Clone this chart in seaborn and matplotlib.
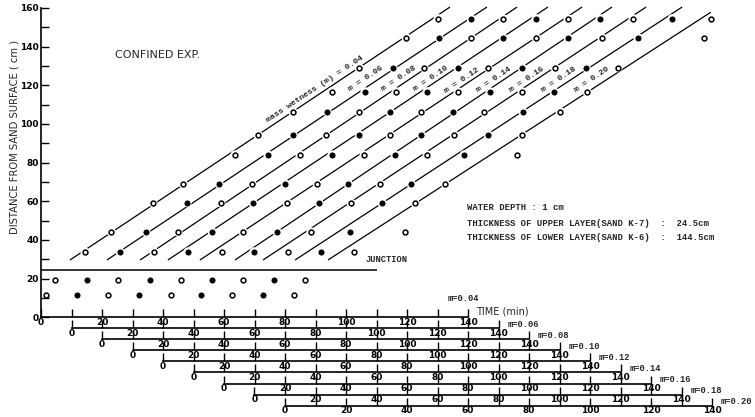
import numpy as np
import pandas as pd
import matplotlib
matplotlib.use("Agg")
import matplotlib.pyplot as plt
from matplotlib.ticker import MultipleLocator, FixedLocator
import seaborn as sns

# ---------------- data ----------------
wetness = [0.04, 0.06, 0.08, 0.10, 0.12, 0.14, 0.16, 0.18, 0.20]
# sensor depths (cm from sand surface)
depth_cm = [11.5, 19.3, 33.8, 44.2, 59.2, 69.0, 84.0, 94.4, 106.3, 116.7, 129.1, 144.6, 154.5]
# arrival time (min) on each series' own time axis, same order as depth_cm
t_m004 = [1.6, 4.6, 14.4, 23.0, 36.7, 46.6, 63.6, 71.1, 82.6, 95.4, 104.3, 119.7, 130.2]
t_m006 = [1.8, 5.1, 15.9, 24.4, 37.9, 48.4, 64.4, 72.6, 83.8, 96.2, 105.4, 120.5, 131.0]
t_m008 = [2.0, 5.2, 17.0, 24.9, 39.0, 49.2, 64.9, 73.4, 84.3, 96.4, 105.6, 121.0, 131.5]
t_m010 = [2.1, 5.7, 18.2, 26.1, 39.5, 50.0, 65.4, 74.3, 84.4, 96.6, 106.7, 121.5, 132.3]
t_m012 = [2.6, 5.9, 19.3, 26.2, 40.7, 50.5, 65.9, 74.4, 84.6, 96.7, 106.6, 122.3, 132.8]
t_m014 = [2.5, 6.1, 19.8, 27.4, 41.1, 50.7, 66.1, 74.6, 85.1, 97.2, 107.7, 122.8, 133.3]
t_m016 = [2.6, 6.2, 21.0, 28.5, 41.6, 51.1, 66.6, 75.4, 85.2, 97.7, 108.5, 123.9, 134.1]
t_m018 = [2.8, 6.4, 21.8, 31.3, 41.8, 51.3, 68.7, 76.6, 88.0, 98.2, 108.7, 125.7, 136.9]
t_m020 = [3.0, 6.6, 22.6, 39.3, 42.6, 52.5, 76.1, 77.7, 90.2, 99.0, 109.2, 137.4, 139.7]
times = [t_m004, t_m006, t_m008, t_m010, t_m012, t_m014, t_m016, t_m018, t_m020]
# each series' time axis starts this many minutes later on the common scale
axis_offset_min = [0, 10, 20, 30, 40, 50, 60, 70, 80]
hollow = [True, False, True, False, True, False, True, False, True]
# fitted wetting-front lines (own time) : start / end
line_depth_start = 29.6
line_t_start = [9.5, 11.6, 12.5, 11.6, 12.1, 13.6, 12.8, 13.3, 14.1]
line_t_end = [134.1, 136.2, 136.1, 136.2, 137.4, 137.2, 138.4, 140.2, 139.6]
line_depth_end = [160.5, 160.5, 160.5, 160.5, 160.5, 160.5, 160.5, 160.5, 157.8]
line_labels = ["mass wetness (m) = 0.04", "m = 0.06", "m = 0.08", "m = 0.10", "m = 0.12",
               "m = 0.14", "m = 0.16", "m = 0.18", "m = 0.20"]
label_x = [89.7, 106.6, 117.4, 127.9, 138.0, 148.5, 159.3, 169.8, 180.7]
label_y = [118.2, 123.4, 123.4, 123.4, 122.4, 122.9, 122.9, 122.9, 122.9]
junction_depth = 24.5
junction_end_t = 110.0
time_ticks = [0, 20, 40, 60, 80, 100, 120, 140]
time_minor = [10, 30, 50, 70, 90, 110, 130]
depth_ticks = [0, 20, 40, 60, 80, 100, 120, 140, 160]
depth_minor = [10, 30, 50, 70, 90, 110, 130, 150]

# ---------------- table ----------------
rows = []
for k, m in enumerate(wetness):
    for d, t in zip(depth_cm, times[k]):
        rows.append(dict(m=m, depth=d, t=t, t_plot=t + axis_offset_min[k], hollow=hollow[k],
                         lower=d > junction_depth))
df = pd.DataFrame(rows)

# ---------------- style ----------------
sns.set_theme(style="ticks")
plt.rcParams["font.family"] = ["DejaVu Sans"]
plt.rcParams["axes.facecolor"] = "white"

W, H = 755, 417
PXMIN = 3.05          # px per minute
fig = plt.figure(figsize=(W / 100, H / 100), dpi=100)
fig.patch.set_facecolor("white")

y0_px = 317.2
ax = fig.add_axes([41 / W, (H - y0_px) / H, 714 / W, (y0_px - 8) / H])
ax.set_xlim(0, 714 / PXMIN)
ax.set_ylim(0, 160)
ax.patch.set_alpha(0)

TICK_LEN = 5.8
tick_font = dict(fontsize=6.5, fontweight="bold")


def style_time_axis(a):
    a.set_xticks(time_ticks)
    a.set_xticklabels([str(v) for v in time_ticks], **tick_font)
    a.xaxis.set_minor_locator(FixedLocator(time_minor))
    a.tick_params(axis="x", which="both", direction="in", length=TICK_LEN, width=1.0,
                  pad=0.5, colors="black")
    a.spines["bottom"].set_bounds(0, 140)
    a.spines["bottom"].set_linewidth(1.2)
    a.spines["bottom"].set_color("black")


for s in ["top", "right"]:
    ax.spines[s].set_visible(False)
style_time_axis(ax)
ax.set_yticks(depth_ticks)
ax.set_yticklabels([str(v) for v in depth_ticks], **tick_font)
ax.yaxis.set_minor_locator(FixedLocator(depth_minor))
ax.tick_params(axis="y", which="both", direction="in", length=TICK_LEN, width=1.0, pad=1.5,
               colors="black")
ax.spines["left"].set_bounds(0, 160)
ax.spines["left"].set_linewidth(1.2)
ax.spines["left"].set_color("black")

# staggered time axes for m = 0.06 ... 0.20
mono = ["Liberation Mono", "DejaVu Sans Mono"]
for k in range(1, len(wetness)):
    left = 41 + axis_offset_min[k] * PXMIN
    bottom = y0_px + 11.05 * k
    sax = fig.add_axes([left / W, (H - bottom) / H, 140 * PXMIN / W, 8 / H])
    sax.set_xlim(0, 140)
    sax.set_ylim(0, 1)
    sax.patch.set_alpha(0)
    for s in ["top", "right", "left"]:
        sax.spines[s].set_visible(False)
    sax.set_yticks([])
    style_time_axis(sax)
    sax.text(143, 0.45, f"m={wetness[k]:.2f}", fontsize=6.3, fontweight="bold",
             family=mono, ha="left", va="center")

ax.text(133.4, 9.9, f"m={wetness[0]:.2f}", fontsize=6.3, fontweight="bold", family=mono,
        ha="left", va="center")
ax.text(142.6, 2.7, "TIME (min)", fontsize=7, family=["Liberation Sans Narrow", "DejaVu Sans"],
        ha="left", va="center")

# fitted lines
for k in range(len(wetness)):
    off = axis_offset_min[k]
    ax.plot([line_t_start[k] + off, line_t_end[k] + off],
            [line_depth_start, line_depth_end[k]], color="black", lw=0.9, zorder=2,
            solid_capstyle="butt", clip_on=False)

# white gaps around points, then the points
lower = df[df.lower]
sns.scatterplot(data=lower, x="t_plot", y="depth", s=42, color="white", edgecolor="none",
                ax=ax, zorder=3, legend=False, clip_on=False)
sns.scatterplot(data=df[df.hollow], x="t_plot", y="depth", s=12, color="white",
                edgecolor="black", linewidth=1.1, ax=ax, zorder=4, legend=False, clip_on=False)
sns.scatterplot(data=df[~df.hollow], x="t_plot", y="depth", s=14, color="black",
                edgecolor="black", linewidth=0.6, ax=ax, zorder=4, legend=False, clip_on=False)
ax.set_xlabel("")
ax.set_ylabel("")

# junction
ax.hlines(junction_depth, 0, junction_end_t, color="black", lw=1.1, zorder=2)
ax.text(106.5, 29.6, "JUNCTION", fontsize=6.3, fontweight="bold", family=mono,
        ha="left", va="center")

# line labels
for k in range(len(wetness)):
    ax.text(label_x[k], label_y[k], line_labels[k], fontsize=6, fontweight="bold",
            family=mono, rotation=33.6, rotation_mode="anchor", ha="center", va="center",
            zorder=5)

# titles / notes
narrow = ["Liberation Sans Narrow", "DejaVu Sans"]
fig.text(15 / W, 1 - 137.5 / H, "DISTANCE FROM SAND SURFACE ( cm )", rotation=90,
         fontsize=7.2, family=narrow, ha="center", va="center")
fig.text(158 / W, 1 - 55 / H, "CONFINED EXP.", fontsize=8, family=narrow,
         ha="center", va="center")
notes = ["WATER DEPTH : 1 cm",
         "THICKNESS OF UPPER LAYER(SAND K-7)  :  24.5cm",
         "THICKNESS OF LOWER LAYER(SAND K-6)  :  144.5cm"]
for txt, ypx in zip(notes, [208, 223.5, 238]):
    fig.text(467 / W, 1 - ypx / H, txt, fontsize=6.4, fontweight="bold", family=mono,
             ha="left", va="center")

fig.savefig("out.png", dpi=100, facecolor="white")
